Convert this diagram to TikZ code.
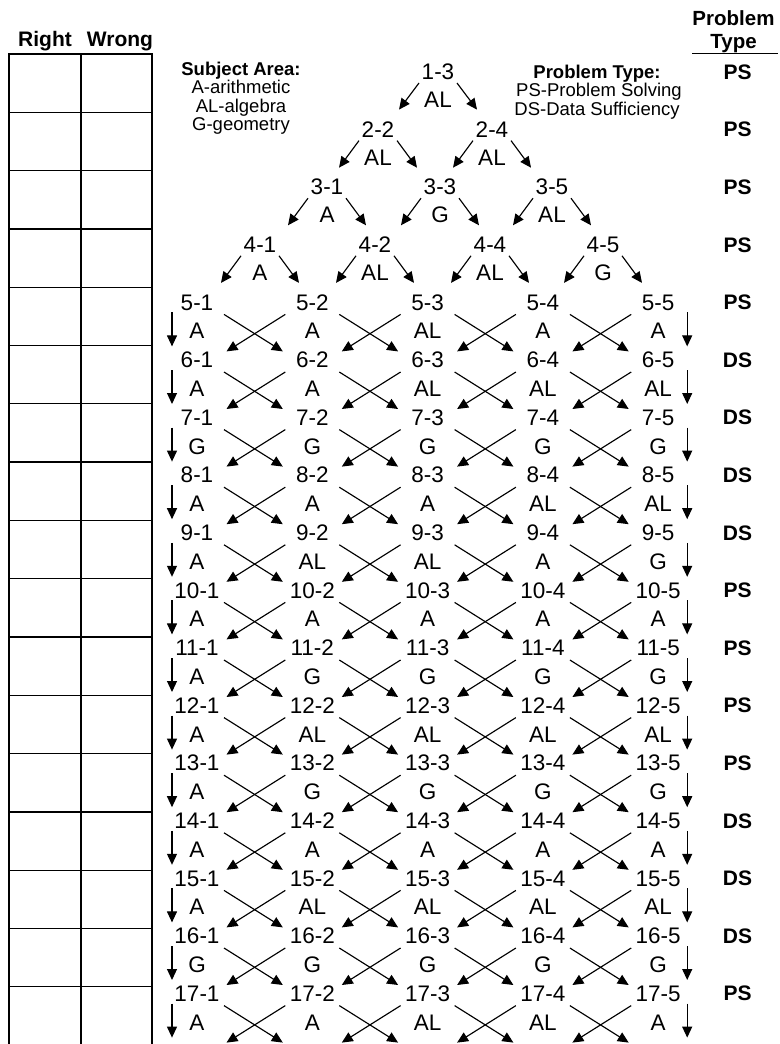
\documentclass[tikz,border=0pt]{standalone}
\usepackage{fontspec}
\setmainfont{Liberation Sans}
\usetikzlibrary{arrows.meta}
\newcommand\subjrow[2]{%
  \foreach \s [count=\c] in {#2}
    \node[subj] (s-#1-\c) at ({197+115.3*(\c-1)},{72+57.6*(#1-1)+28.8}) {\s};}
\begin{document}
\begin{tikzpicture}[x=1pt,y=-1pt,
  lab/.style={inner sep=0pt, font=\fontsize{22.5}{22.5}\selectfont},
  subj/.style={inner sep=0pt, font=\fontsize{22.5}{22.5}\selectfont},
  ptype/.style={inner sep=0pt, font=\fontsize{21}{21}\selectfont\bfseries},
  hdr/.style={inner sep=0pt, anchor=base, font=\fontsize{21}{21}\selectfont\bfseries},
  leghead/.style={inner sep=0pt, anchor=base, font=\fontsize{18.5}{18.5}\selectfont\bfseries},
  legtext/.style={inner sep=0pt, anchor=base, font=\fontsize{18.5}{18.5}\selectfont},
  arr/.style={line width=1.15pt, -{Triangle[length=11pt,width=10pt]}},
  gridline/.style={line width=1.3pt}
]
\useasboundingbox (0,0) rectangle (779,1044);
% answer grid
\foreach \x in {9,81,152} \draw[gridline] (\x,54) -- (\x,1044);
\foreach \k in {0,...,16} \draw[gridline] (8.35,{54+58.3*\k}) -- (152.65,{54+58.3*\k});
\node[hdr] (right) at (45,46.5) {Right};
\node[hdr] (wrong) at (120,46.5) {Wrong};
\node[hdr, align=center, font=\fontsize{20.5}{23}\selectfont\bfseries] (prob) at (733.5,48.3) {Problem\\Type};
\draw[line width=1.2pt] (692,53.3) -- (778,53.3);
% legends
\node[leghead] (sa) at (241,75) {Subject Area:};
\node[legtext] (sa1) at (241,93.5) {A-arithmetic};
\node[legtext] (sa2) at (241,112) {AL-algebra};
\node[legtext] (sa3) at (241,130.5) {G-geometry};
\node[leghead] (pt) at (597,78) {Problem Type:};
\node[legtext] (pt1) at (599,96.5) {PS-Problem Solving};
\node[legtext] (pt2) at (597,115) {DS-Data Sufficiency};
% problem types
\foreach \r/\t in {1/PS,2/PS,3/PS,4/PS,5/PS,6/DS,7/DS,8/DS,9/DS,10/PS,11/PS,12/PS,13/PS,14/DS,15/DS,16/DS,17/PS}
  \node[ptype] (type-\r) at (737.5,{72+57.6*(\r-1)}) {\t};
% triangle
\node[lab] (n-1-3) at (438,72) {1-3};
\node[lab] (n-2-2) at (378,129.6) {2-2};
\node[lab] (n-2-4) at (492,129.6) {2-4};
\node[lab] (n-3-1) at (327,187.2) {3-1};
\node[lab] (n-3-3) at (440,187.2) {3-3};
\node[lab] (n-3-5) at (552,187.2) {3-5};
\node[lab] (n-4-1) at (260,244.8) {4-1};
\node[lab] (n-4-2) at (375,244.8) {4-2};
\node[lab] (n-4-4) at (490,244.8) {4-4};
\node[lab] (n-4-5) at (603,244.8) {4-5};
\node[subj] (s-1-3) at (438,100) {AL};
\node[subj] (s-2-2) at (378,157.6) {AL};
\node[subj] (s-2-4) at (492,157.6) {AL};
\node[subj] (s-3-1) at (327,215.2) {A};
\node[subj] (s-3-3) at (440,215.2) {G};
\node[subj] (s-3-5) at (552,215.2) {AL};
\node[subj] (s-4-1) at (260,272.8) {A};
\node[subj] (s-4-2) at (375,272.8) {AL};
\node[subj] (s-4-4) at (490,272.8) {AL};
\node[subj] (s-4-5) at (603,272.8) {G};
% grid of nodes
\foreach \r in {5,...,17}
  \foreach \c in {1,...,5}
    \node[lab] (n-\r-\c) at ({197+115.3*(\c-1)},{72+57.6*(\r-1)}) {\r-\c};
\foreach \c in {1,...,5}
  \coordinate (n-18-\c) at ({197+115.3*(\c-1)},{72+57.6*17});
\subjrow{5}{A,A,AL,A,A}
\subjrow{6}{A,A,AL,AL,AL}
\subjrow{7}{G,G,G,G,G}
\subjrow{8}{A,A,A,AL,AL}
\subjrow{9}{A,AL,AL,A,G}
\subjrow{10}{A,A,A,A,A}
\subjrow{11}{A,G,G,G,G}
\subjrow{12}{A,AL,AL,AL,AL}
\subjrow{13}{A,G,G,G,G}
\subjrow{14}{A,A,A,A,A}
\subjrow{15}{A,AL,AL,AL,AL}
\subjrow{16}{G,G,G,G,G}
\subjrow{17}{A,A,AL,AL,A}
% triangle arrows
\foreach \src/\tgt/\sx/\tx/\ty in {
  n-1-3/n-2-2/-19/21/-20, n-1-3/n-2-4/19/-15/-20,
  n-2-2/n-3-1/-19/12/-19.5, n-2-2/n-3-3/19/-23/-19.5,
  n-2-4/n-3-3/-19/13/-19.5, n-2-4/n-3-5/19/-21/-19.5,
  n-3-1/n-4-1/-19/28/-19.5, n-3-1/n-4-2/19/-9/-19.5,
  n-3-3/n-4-2/-19/26/-19.5, n-3-3/n-4-4/19/-11/-19.5,
  n-3-5/n-4-4/-19/23/-19.5, n-3-5/n-4-5/19/-12/-19.5,
  n-4-1/n-5-1/-19/24/-19.5, n-4-1/n-5-2/19/-13.3/-19.5,
  n-4-2/n-5-2/-19/23.7/-19.5, n-4-2/n-5-3/19/-13.6/-19.5,
  n-4-4/n-5-3/-19/23.4/-19.5, n-4-4/n-5-4/19/-13.9/-19.5,
  n-4-5/n-5-4/-19/21.1/-19.5, n-4-5/n-5-5/19/-16.2/-19.5}
  \draw[arr] ([shift={(\sx,11)}]\src.center) -- ([shift={(\tx,\ty)}]\tgt.center);
% crossing arrows
\foreach \r in {5,...,17} {
  \pgfmathtruncatemacro{\rnext}{\r+1}
  \foreach \c in {1,...,4} {
    \pgfmathtruncatemacro{\cnext}{\c+1}
    \draw[arr] ([shift={(27,12)}]n-\r-\c.center) -- ([shift={(-29.5,-8.6)}]n-\rnext-\cnext.center);
    \draw[arr] ([shift={(-27,12)}]n-\r-\cnext.center) -- ([shift={(29.5,-8.6)}]n-\rnext-\c.center);
  }
  \draw[arr] ([shift={(-25,10)}]n-\r-1.center) -- ([shift={(-25,-13.6)}]n-\rnext-1.center);
  \draw[arr] ([shift={(29,10)}]n-\r-5.center) -- ([shift={(29,-13.6)}]n-\rnext-5.center);
}
\end{tikzpicture}
\end{document}
